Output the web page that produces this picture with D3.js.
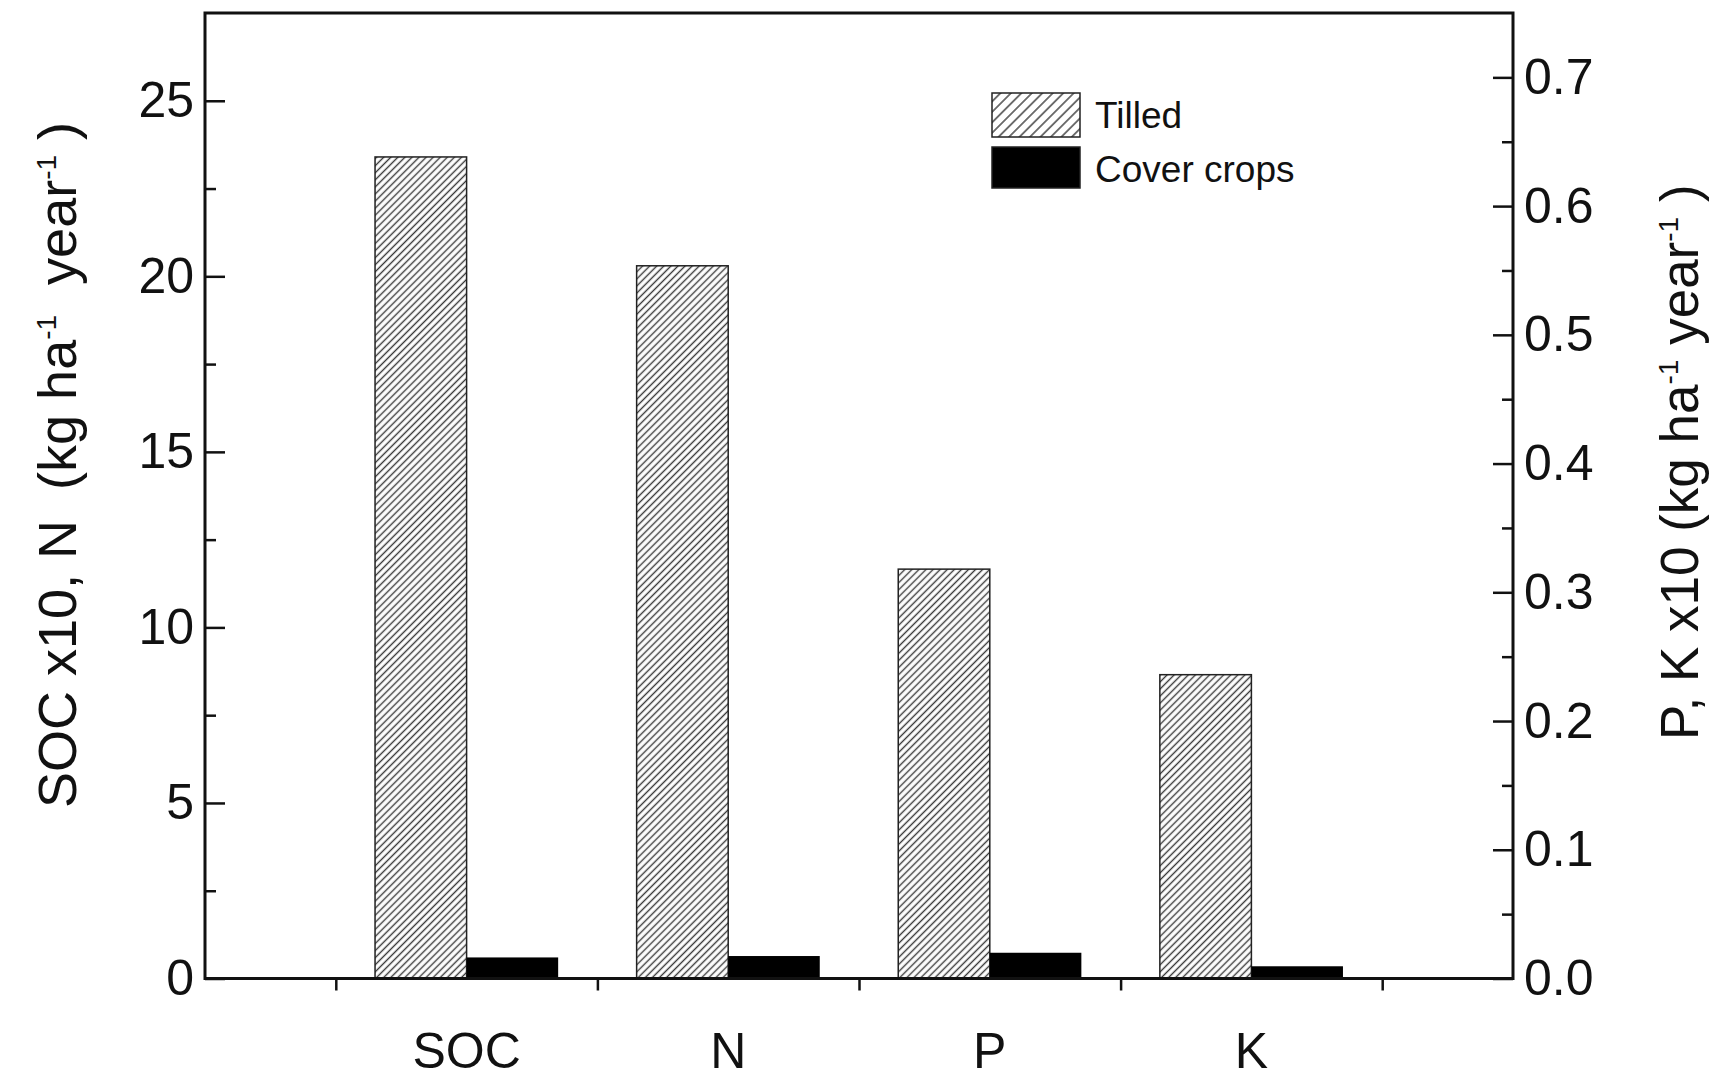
<!DOCTYPE html>
<html>
<head>
<meta charset="utf-8">
<script src="https://cdn.jsdelivr.net/npm/d3@7"></script>
<style>
  body { margin: 0; background: #fff; }
  svg { display: block; font-family: "Liberation Sans", Arial, sans-serif; }
</style>
</head>
<body>
<svg id="chart" width="1718" height="1078"></svg>
<script>
// data
const categories = ["SOC", "N", "P", "K"];
const tilled = [23.4, 20.3, 0.318, 0.236];
const coverCrops = [0.6, 0.64, 0.020, 0.0095];
const valueAxis = ["left", "left", "right", "right"]; // SOC, N on left axis; P, K on right
const leftTicks = [0, 5, 10, 15, 20, 25];
const rightTicks = [0, 0.1, 0.2, 0.3, 0.4, 0.5, 0.6, 0.7];
const seriesNames = ["Tilled", "Cover crops"];

const width = 1718, height = 1078;
const plot = { left: 205, right: 1513, top: 13, bottom: 978.5 };
const barW = 0.35;

const svg = d3.select("#chart");
const defs = svg.append("defs");

function hatch(id, step) {
  const p = defs.append("pattern")
    .attr("id", id)
    .attr("patternUnits", "userSpaceOnUse")
    .attr("width", step).attr("height", step)
    .attr("patternTransform", "rotate(45)");
  p.append("rect").attr("width", step).attr("height", step).attr("fill", "#fff");
  p.append("line")
    .attr("x1", step / 2).attr("x2", step / 2)
    .attr("y1", 0).attr("y2", step)
    .attr("stroke", "#3a3a3a").attr("stroke-width", 1.4);
}
hatch("hatchBar", 5);
hatch("hatchLegend", 7.4);

// --- scales ---
const x = d3.scaleLinear().domain([0, 5]).range([plot.left, plot.right]);
const yL = d3.scaleLinear().domain([0, 27.5]).range([plot.bottom, plot.top]);
const yR = d3.scaleLinear().domain([0, 0.75]).range([plot.bottom, plot.top]);
const yFor = i => valueAxis[i] === "left" ? yL : yR;

// --- bars ---
const bars = svg.append("g");
bars.selectAll(".tilled")
  .data(tilled)
  .join("rect")
  .attr("class", "tilled")
  .attr("x", (d, i) => x(i + 1 - barW))
  .attr("width", (d, i) => x(i + 1) - x(i + 1 - barW))
  .attr("y", (d, i) => yFor(i)(d))
  .attr("height", (d, i) => plot.bottom - yFor(i)(d))
  .attr("fill", "url(#hatchBar)")
  .attr("stroke", "#222")
  .attr("stroke-width", 1.5);

bars.selectAll(".cover")
  .data(coverCrops)
  .join("rect")
  .attr("class", "cover")
  .attr("x", (d, i) => x(i + 1))
  .attr("width", (d, i) => x(i + 1 + barW) - x(i + 1))
  .attr("y", (d, i) => yFor(i)(d))
  .attr("height", (d, i) => plot.bottom - yFor(i)(d))
  .attr("fill", "#000");

// --- axes ---
function styleAxis(g) {
  g.select(".domain").remove();
  g.selectAll(".tick line").attr("stroke", "#111").attr("stroke-width", 2.5);
  g.selectAll(".tick text").attr("fill", "#111").attr("font-size", 50);
}

const leftMinor = d3.range(0, 27.5, 2.5).filter(v => v % 5 !== 0);
svg.append("g")
  .attr("transform", `translate(${plot.left},0)`)
  .call(d3.axisLeft(yL).tickValues(leftMinor).tickSize(-11).tickFormat(""))
  .call(styleAxis);
svg.append("g")
  .attr("transform", `translate(${plot.left},0)`)
  .call(d3.axisLeft(yL).tickValues(leftTicks).tickSize(-20).tickPadding(11).tickFormat(d3.format("d")))
  .call(styleAxis);

const rightMinor = d3.range(0.05, 0.75, 0.1);
svg.append("g")
  .attr("transform", `translate(${plot.right},0)`)
  .call(d3.axisRight(yR).tickValues(rightMinor).tickSize(-11).tickFormat(""))
  .call(styleAxis);
svg.append("g")
  .attr("transform", `translate(${plot.right},0)`)
  .call(d3.axisRight(yR).tickValues(rightTicks).tickSize(-20).tickPadding(11).tickFormat(d3.format(".1f")))
  .call(styleAxis);

svg.append("g")
  .attr("transform", `translate(0,${plot.bottom})`)
  .call(d3.axisBottom(x).tickValues([0.5, 1.5, 2.5, 3.5, 4.5]).tickSize(12).tickFormat(""))
  .call(styleAxis);

// category labels
svg.append("g").selectAll("text")
  .data(categories)
  .join("text")
  .attr("x", (d, i) => x(i + 1))
  .attr("y", 1068)
  .attr("text-anchor", "middle")
  .attr("font-size", 50)
  .attr("fill", "#111")
  .text(d => d);

// frame
svg.append("rect")
  .attr("x", plot.left).attr("y", plot.top)
  .attr("width", plot.right - plot.left)
  .attr("height", plot.bottom - plot.top)
  .attr("fill", "none")
  .attr("stroke", "#111")
  .attr("stroke-width", 3);

// --- axis titles ---
function axisTitle(xPos, yPos, size, parts) {
  const t = svg.append("text")
    .attr("transform", `translate(${xPos},${yPos}) rotate(-90)`)
    .attr("font-size", size)
    .attr("fill", "#111")
    .style("white-space", "pre");
  let raised = false;
  parts.forEach(p => {
    if (p.sup) {
      t.append("tspan").attr("font-size", 28).attr("dy", -20).text(p.text);
      raised = true;
    } else {
      const s = t.append("tspan").text(p.text);
      if (raised) { s.attr("dy", 20); raised = false; }
    }
  });
}
axisTitle(76, 808, 54, [
  { text: "SOC x10, N  (kg ha" }, { text: "-1", sup: true },
  { text: "  year" }, { text: "-1", sup: true }, { text: " )" }
]);
axisTitle(1698, 740, 53, [
  { text: "P, K x10 (kg ha" }, { text: "-1", sup: true },
  { text: " year" }, { text: "-1", sup: true }, { text: " )" }
]);

// --- legend ---
const legend = svg.append("g");
const legendFill = ["url(#hatchLegend)", "#000"];
const legendY = [93, 147];
seriesNames.forEach((name, i) => {
  legend.append("rect")
    .attr("x", 992).attr("y", legendY[i])
    .attr("width", 88).attr("height", i === 0 ? 44 : 41)
    .attr("fill", legendFill[i])
    .attr("stroke", "#222").attr("stroke-width", 1.5);
  legend.append("text")
    .attr("x", 1095).attr("y", legendY[i] + 35)
    .attr("font-size", 37)
    .attr("fill", "#111")
    .text(name);
});
</script>
</body>
</html>
